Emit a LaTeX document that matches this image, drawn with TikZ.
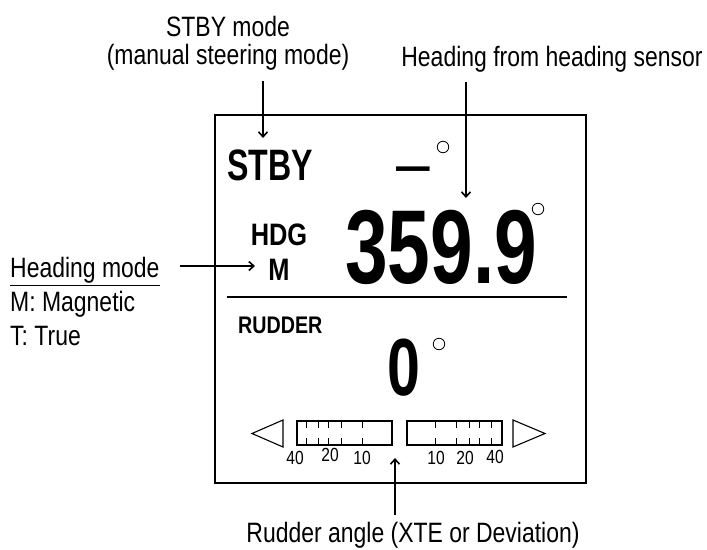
\documentclass[tikz,border=0pt]{standalone}
\usepackage{fontspec}
\setmainfont{Liberation Sans}[FakeStretch=0.82]
\newfontfamily\lcdfont{Liberation Sans}[FakeStretch=0.73]
\usetikzlibrary{arrows.meta}

\begin{document}
\begin{tikzpicture}[x=1pt, y=-1pt,
    callout/.style={font=\fontsize{28}{28}\selectfont, inner sep=0pt},
    panel/.style={draw, line width=1.4pt, inner sep=0pt},
    lcdbig/.style={font=\lcdfont\bfseries\fontsize{#1}{#1}\selectfont, inner sep=0pt, anchor=base west},
    lcdtag/.style={font=\bfseries\fontsize{#1}{#1}\selectfont, inner sep=0pt},
    deg/.style={circle, draw, line width=0.8pt, minimum size=11.5pt, inner sep=0pt},
    pointer/.style={-{Straight Barb[length=5pt,width=9pt]}, line width=1.6pt},
    bar/.style={draw, line width=1.1pt, minimum width=95pt, minimum height=24pt, inner sep=0pt},
    tick/.style={line width=1pt},
    scaletxt/.style={font=\fontsize{19}{19}\selectfont, inner sep=0pt, anchor=base}]
    \useasboundingbox (0,0) rectangle (707,549);
    % display panel
    \node[panel, minimum width=371pt, minimum height=368pt] (panel) at (400.5,299) {};
    \node[lcdbig=44] (stby) at (227,180) {STBY};
    \node[lcdbig=46] (dash) at (396,181) {—};
    \node[deg] (degset) at (443,147) {};
    \node[lcdtag=31, anchor=base] (hdg) at (279,245) {HDG};
    \node[lcdtag=31, anchor=base] (mode) at (279,280) {M};
    \node[lcdbig=105] (hdgval) at (345,283) {359.9};
    \node[deg] (deghdg) at (538,209) {};
    \draw[line width=1.4pt] (227,297) -- (567,297);
    \node[lcdtag=24, anchor=base west] (rudder) at (238,333) {RUDDER};
    \node[lcdbig=81] (rudval) at (387,395) {0};
    \node[deg] (degrud) at (439,344) {};
    % rudder scale
    \node[bar] (lbar) at (344.5,433) {};
    \node[bar] (rbar) at (454.5,433) {};
    \foreach \t in {10,22,32,45,66} {
        \draw[tick] (lbar.north west) ++(\t,0) -- ++(0,8);
        \draw[tick] (lbar.south west) ++(\t,0) -- ++(0,-8);
    }
    \foreach \t in {29,50,63,73,85} {
        \draw[tick] (rbar.north west) ++(\t,0) -- ++(0,8);
        \draw[tick] (rbar.south west) ++(\t,0) -- ++(0,-8);
    }
    \draw[line width=1.1pt] (283,420) -- (252,433.5) -- (283,447) -- cycle;
    \draw[line width=1.1pt] (513,420) -- (545,433.5) -- (513,447) -- cycle;
    \foreach \x/\n/\b in {295/40/464, 330/20/461, 362/10/464, 436/10/464, 465/20/464, 495/40/463}
        \node[scaletxt] (s\x) at (\x,\b) {\n};
    % callouts
    \node[callout, align=center, anchor=south, inner ysep=10pt] (stbymode) at (228,81) {STBY mode\\(manual steering mode)};
    \node[callout, anchor=south, inner ysep=9pt] (hdgsrc) at (552,82) {Heading from heading sensor};
    \node[callout, font=\fontsize{28}{34}\selectfont, align=left, anchor=north west] (hdgmode) at (10,257) {\underline{Heading mode}\\M: Magnetic\\T: True};
    \node[callout, anchor=north, inner ysep=7.5pt] (rudlbl) at (413,515) {Rudder angle (XTE or Deviation)};
    \coordinate (stbytip) at (263,138);
    \coordinate (hdgtip) at (466,198);
    \coordinate (modetip) at (255,266);
    \coordinate (rudtip) at (395,458);
    \draw[pointer] (stbymode.south -| stbytip) -- (stbytip);
    \draw[pointer] (hdgsrc.south -| hdgtip) -- (hdgtip);
    \draw[pointer] ([xshift=20pt]hdgmode.east |- modetip) -- (modetip);
    \draw[pointer] (rudlbl.north -| rudtip) -- (rudtip);
\end{tikzpicture}
\end{document}
